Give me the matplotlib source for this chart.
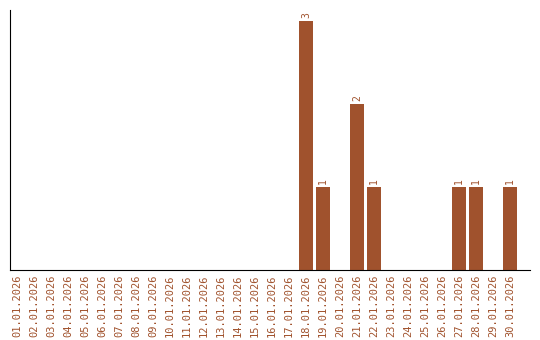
from matplotlib import pyplot as plt

# Datos: conteo por dia de enero 2026
dias = ['%02d.01.2026' % d for d in range(1, 31)]
valores = [0, 0, 0, 0, 0, 0, 0, 0, 0, 0, 0, 0, 0, 0, 0, 0, 0,
           3, 1, 0, 2, 1, 0, 0, 0, 0, 1, 1, 0, 1]

color = '#A0522D'

fig = plt.figure(figsize=(5.4, 3.4), dpi=100)
ax = fig.add_axes([10 / 540, 70 / 340, 520 / 540, 260 / 340])

x = list(range(len(dias)))
ax.bar(x, valores, width=0.82, color=color)

# Etiquetas de valor encima de cada barra
for i in range(len(valores)):
    if valores[i] > 0:
        ax.text(x[i], valores[i] + 0.03, str(valores[i]), rotation=90,
                ha='center', va='bottom', color=color,
                family='DejaVu Sans Mono', fontsize=7)

ax.set_xlim(-0.41, 30.18)
ax.set_ylim(0, 3.13)
ax.set_xticks(x)
ax.set_xticklabels(dias, rotation=90, color=color,
                   family='DejaVu Sans Mono', fontsize=7.5)
ax.tick_params(axis='x', length=0, pad=3)
ax.set_yticks([])
ax.spines['top'].set_visible(False)
ax.spines['right'].set_visible(False)

fig.savefig('out.png', dpi=100)
